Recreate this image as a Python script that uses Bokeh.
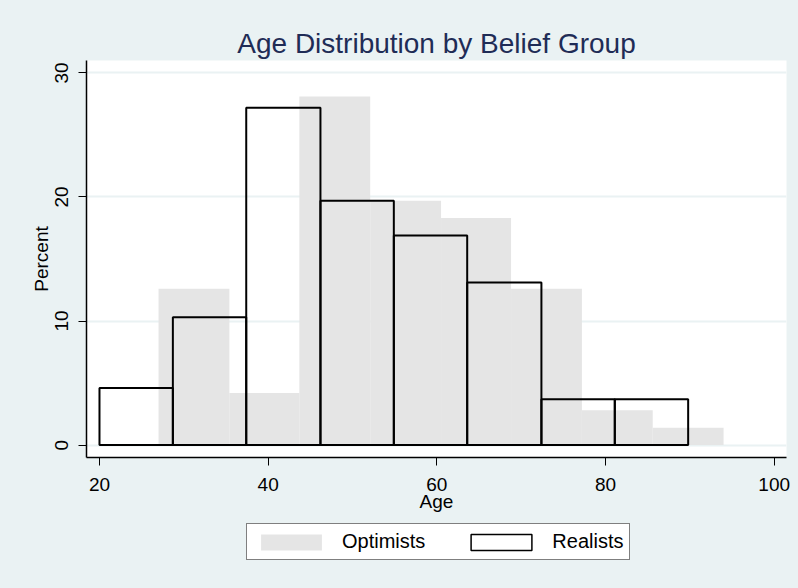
from bokeh.plotting import figure
from bokeh.layouts import column
from bokeh.models import Range1d, FixedTicker, Legend, LegendItem, Title
from bokeh.embed import file_html
from bokeh.resources import INLINE

# ---- data (percent of each group per age bin) ----
optimist_edges = [27.0, 35.4, 43.7, 52.1, 60.5, 68.8, 77.2, 85.6, 94.0]
optimist_pct = [12.6, 4.2, 28.1, 19.7, 18.3, 12.6, 2.8, 1.4]
realist_edges = [20.0, 28.7, 37.4, 46.2, 54.9, 63.6, 72.4, 81.1, 89.8]
realist_pct = [4.6, 10.3, 27.2, 19.7, 16.9, 13.1, 3.7, 3.7]
x_ticks = [20, 40, 60, 80, 100]
y_ticks = [0, 10, 20, 30]
series_names = ["Optimists", "Realists"]

FONT = "Liberation Sans"
BG = "#EAF2F3"
OPT_FILL = "#E5E5E5"

p = figure(frame_width=700, frame_height=397, output_backend="svg",
           toolbar_location=None,
           x_range=Range1d(18.46, 101.46), y_range=Range1d(-1.0, 31.0),
           min_border_left=86, min_border_right=12, min_border_top=60,
           min_border_bottom=63)
p.background_fill_color = "white"
p.border_fill_color = BG
p.outline_line_color = None

title = Title(text="Age Distribution by Belief Group", align="center",
              text_font=FONT, text_font_size="28px", text_font_style="normal",
              text_color="#1f2c56", standoff=4)
p.add_layout(title, "above")

p.quad(left=optimist_edges[:-1], right=optimist_edges[1:],
       bottom=0, top=optimist_pct, fill_color=OPT_FILL, line_color=None)
p.quad(left=realist_edges[:-1], right=realist_edges[1:],
       bottom=0, top=realist_pct, fill_color=None, line_color="black",
       line_width=2)

# grid
p.xgrid.visible = False
p.ygrid.ticker = FixedTicker(ticks=y_ticks)
p.ygrid.grid_line_color = BG
p.ygrid.grid_line_width = 2

# axes
for ax in (p.xaxis[0], p.yaxis[0]):
    ax.major_label_text_font = FONT
    ax.major_label_text_font_size = "19px"
    ax.major_label_text_color = "black"
    ax.axis_label_text_font = FONT
    ax.axis_label_text_font_size = "19px"
    ax.axis_label_text_font_style = "normal"
    ax.axis_label_text_color = "black"
    ax.major_tick_out = 8
    ax.major_tick_in = 0
    ax.minor_tick_line_color = None
    ax.axis_line_color = "black"
    ax.axis_line_width = 1.5
    ax.major_tick_line_color = "black"

p.xaxis[0].ticker = FixedTicker(ticks=x_ticks)
p.xaxis[0].axis_label = "Age"
p.xaxis[0].major_label_standoff = 12
p.xaxis[0].axis_label_standoff = -3

p.yaxis[0].ticker = FixedTicker(ticks=y_ticks)
p.yaxis[0].axis_label = "Percent"
p.yaxis[0].major_label_orientation = "vertical"
p.yaxis[0].major_label_standoff = 11
p.yaxis[0].axis_label_standoff = 0

# ---- legend strip below the plot (same background) ----
lg = figure(frame_width=700, frame_height=68, output_backend="svg",
            toolbar_location=None,
            x_range=Range1d(0, 1), y_range=Range1d(0, 1),
            x_axis_type=None, y_axis_type=None,
            min_border_left=86, min_border_right=12, min_border_top=0,
            min_border_bottom=0)
lg.background_fill_color = BG
lg.background_fill_alpha = 0
lg.border_fill_color = BG
lg.outline_line_color = None
lg.grid.visible = False
# swatch renderers kept outside the visible range of the strip
r_opt = lg.quad(left=[5], right=[6], bottom=[5], top=[6],
                fill_color=OPT_FILL, line_color=None)
r_rea = lg.quad(left=[5], right=[6], bottom=[5], top=[6],
                fill_color="white", line_color="black", line_width=1.5)

legend = Legend(items=[LegendItem(label=series_names[0], renderers=[r_opt]),
                       LegendItem(label=series_names[1], renderers=[r_rea])],
                orientation="horizontal", location=(160, 28),
                glyph_width=76, glyph_height=20, label_height=20,
                label_standoff=13, spacing=38, padding=6, margin=0,
                label_text_font=FONT, label_text_font_size="20px",
                label_text_color="black",
                border_line_color="black", border_line_width=1,
                background_fill_color="white", background_fill_alpha=1)
lg.add_layout(legend, "center")

layout = column(p, lg, spacing=0, styles={"background-color": BG})
open("out.html", "w").write(file_html(layout, INLINE))
